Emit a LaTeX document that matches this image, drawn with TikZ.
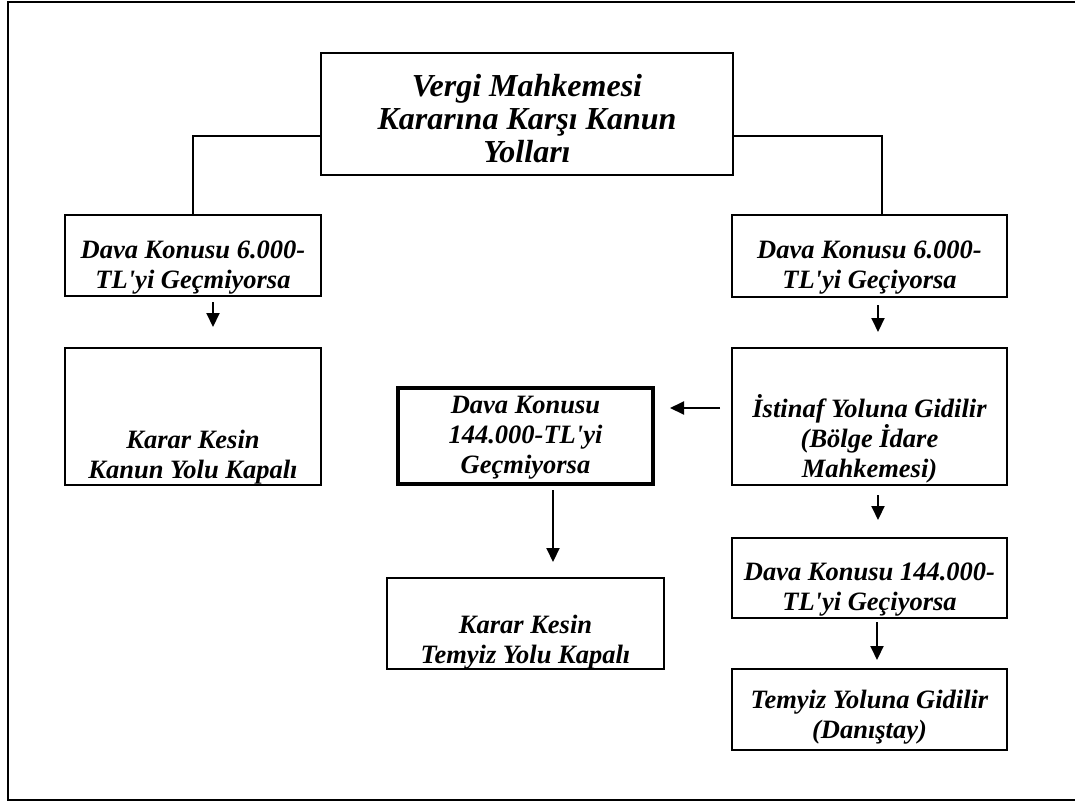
\documentclass[tikz,border=0pt]{standalone}
\usepackage{fontspec}
\setmainfont{Liberation Serif}
\usetikzlibrary{arrows.meta}

\newcommand{\kutuyazi}[4]{\parbox[c][#2pt][b]{#1pt}{\centering #4\par\kern\dimexpr#3pt-\prevdepth\relax}}

\tikzset{
	kutu/.style={draw, line width=2pt, inner sep=0pt, outer sep=0pt, font=\bfseries\itshape\fontsize{26.5}{30}\selectfont},
	bag/.style={line width=1.6pt},
	ok/.style={-{Triangle[length=14pt, width=13pt]}, line width=2pt}
}

\begin{document}
\begin{tikzpicture}[x=1pt, y=-1pt]
		\useasboundingbox (0,0) rectangle (1075,803);
		\draw[line width=2.5pt] (1085,2) -- (8,2) -- (8,800) -- (1085,800);
		
		\node[kutu, font=\bfseries\itshape\fontsize{32}{33}\selectfont] (baslik) at (527,114) {\kutuyazi{412}{122}{13}{Vergi Mahkemesi\\Kararına Karşı Kanun\\Yolları}};
		
		\node[kutu] (sol1) at (193,255.5) {\kutuyazi{256}{81}{8}{Dava Konusu 6.000-\\TL\textquotesingle yi Geçmiyorsa}};
		\node[kutu] (sol2) at (193,416.5) {\kutuyazi{256}{137}{7}{Karar Kesin\\Kanun Yolu Kapalı}};
		
		\node[kutu] (sag1) at (869.5,256) {\kutuyazi{275}{82}{9}{Dava Konusu 6.000-\\TL\textquotesingle yi Geçiyorsa}};
		\node[kutu] (istinaf) at (869.5,416.5) {\kutuyazi{275}{137}{8}{İstinaf Yoluna Gidilir\\(Bölge İdare\\Mahkemesi)}};
		\node[kutu] (sag3) at (869.5,578) {\kutuyazi{275}{80}{8}{Dava Konusu 144.000-\\TL\textquotesingle yi Geçiyorsa}};
		\node[kutu] (sag4) at (869.5,709.5) {\kutuyazi{275}{81}{12}{Temyiz Yoluna Gidilir\\(Danıştay)}};
		
		\node[kutu, line width=3.2pt] (orta1) at (525.5,436) {\kutuyazi{255}{96}{11}{Dava Konusu\\144.000-TL\textquotesingle yi\\Geçmiyorsa}};
		\node[kutu] (orta2) at (525.5,623.5) {\kutuyazi{277}{91}{6}{Karar Kesin\\Temyiz Yolu Kapalı}};
		
		\draw[bag] ([yshift=-22pt]baslik.west) -| (sol1.north);
		\draw[bag] ([yshift=-22pt]baslik.east) -| ([xshift=12.5pt]sag1.north);
		
		\draw[ok, shorten <=6pt, shorten >=21pt] ([xshift=20pt]sol1.south) -- ([xshift=20pt]sol2.north);
		\draw[ok, shorten <=8pt, shorten >=16pt] ([xshift=8.5pt]sag1.south) -- ([xshift=8.5pt]istinaf.north);
		\draw[ok, shorten <=10pt, shorten >=18pt] ([xshift=8.5pt]istinaf.south) -- ([xshift=8.5pt]sag3.north);
		\draw[ok, shorten <=4pt, shorten >=9pt] ([xshift=7.5pt]sag3.south) -- ([xshift=7.5pt]sag4.north);
		\draw[ok, shorten <=12pt, shorten >=17pt] ([yshift=8.5pt]istinaf.west) -- ([yshift=8.5pt]istinaf.west -| orta1.east);
		\draw[ok, shorten <=6pt, shorten >=16pt] ([xshift=27.5pt]orta1.south) -- ([xshift=27.5pt]orta2.north);
	\end{tikzpicture}
\end{document}
